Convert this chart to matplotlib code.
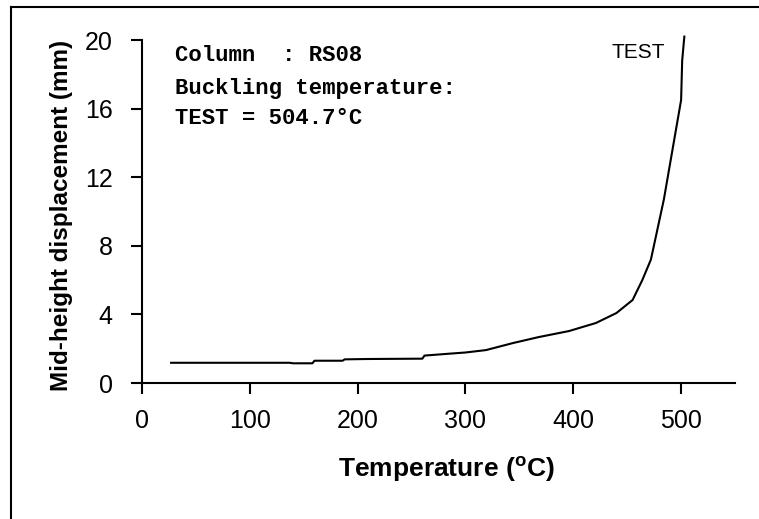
import matplotlib
matplotlib.use("Agg")
import matplotlib.pyplot as plt
from matplotlib.lines import Line2D

# Mid-height displacement of column RS08 during the fire test
temperature = [27, 137, 140, 158, 160, 186, 188, 209, 260, 262, 287, 300, 319, 344, 368,
               396, 421, 440, 455, 464, 472, 484, 492, 500, 501, 503]
displacement = [1.18, 1.18, 1.15, 1.15, 1.3, 1.3, 1.38, 1.4, 1.42, 1.6, 1.72, 1.78, 1.92,
                2.33, 2.68, 3.03, 3.5, 4.08, 4.84, 6.0, 7.2, 10.7, 13.6, 16.5, 18.8, 20.2]

x_ticks = [0, 100, 200, 300, 400, 500]
y_ticks = [0, 4, 8, 12, 16, 20]

fig = plt.figure(figsize=(7.59, 5.19), dpi=100)
ax = fig.add_axes([0.1871, 0.262, 0.7813, 0.6609])

ax.plot(temperature, displacement, color="black", lw=1.5, clip_on=False)

ax.set_xlim(0, 550)
ax.set_ylim(0, 20)
ax.set_xticks(x_ticks)
ax.set_yticks(y_ticks)
for s in ("top", "right"):
    ax.spines[s].set_visible(False)
for s in ("left", "bottom"):
    ax.spines[s].set_linewidth(1.5)
ax.tick_params(direction="out", length=8, width=1.5, colors="black", labelsize=18)
ax.tick_params(axis="x", pad=11)
ax.tick_params(axis="y", pad=13)
for lab in ax.get_xticklabels() + ax.get_yticklabels():
    lab.set_family("Liberation Sans")

ax.set_xlabel("Temperature ($\\mathregular{^{o}}$C)", family="Liberation Sans",
              fontweight="bold", fontsize=19)
ax.set_ylabel("Mid-height displacement (mm)", family="Liberation Sans",
              fontweight="bold", fontsize=17.5)
ax.xaxis.set_label_coords(0.513, -0.21)
ax.yaxis.set_label_coords(-0.1164, 0.49)

mono = dict(family="Liberation Mono", fontweight="bold", fontsize=16,
            transform=ax.transData, va="center", ha="left")
ax.text(30.5, 19.07, "Column  : RS08", **mono)
ax.text(30.5, 17.2, "Buckling temperature:", **mono)
ax.text(30.5, 15.45, "TEST = 504.7°C", **mono)

ax.text(435, 19.3, "TEST", family="Liberation Sans", fontsize=15, va="center", ha="left")

# outer frame lines (left and top)
fig.add_artist(Line2D([11 / 759, 11 / 759], [0, 1 - 7 / 519], transform=fig.transFigure,
                      color="black", lw=1.5))
fig.add_artist(Line2D([11 / 759, 1], [1 - 7 / 519, 1 - 7 / 519], transform=fig.transFigure,
                      color="black", lw=1.5))

fig.savefig("out.png", dpi=100)
